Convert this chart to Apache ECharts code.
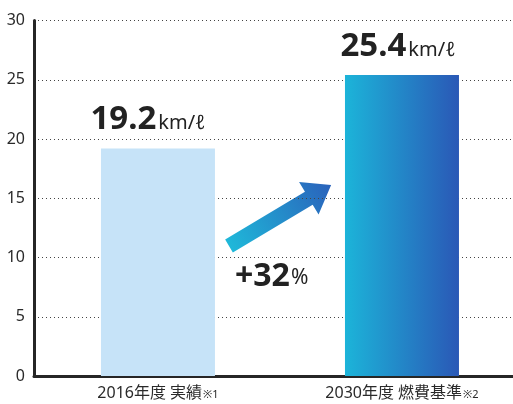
<!DOCTYPE html>
<html>
<head>
<meta charset="utf-8">
<script src="https://cdn.jsdelivr.net/npm/echarts@6/dist/echarts.min.js"></script>
<style>
  html, body { margin: 0; padding: 0; background: #fff; }
  #chart { width: 513px; height: 404px; }
</style>
</head>
<body>
<div id="chart"></div>
<script>
  // 燃費 実績と基準
  const categories = ['2016年度 実績', '2030年度 燃費基準']
  const notes = ['※1', '※2']
  const values = [19.2, 25.4]
  const valueLabels = ['19.2', '25.4']
  const yTicks = [0, 5, 10, 15, 20, 25, 30]
  const increase = '+32'

  const FONT = '"Noto Sans", "Noto Sans CJK JP", sans-serif'
  const chart = echarts.init(document.getElementById('chart'), null, { renderer: 'canvas' })

  const barColors = [
    '#c6e3f8',
    new echarts.graphic.LinearGradient(0, 0, 1, 0, [
      { offset: 0, color: '#1cb4d9' },
      { offset: 1, color: '#2a58b6' }
    ])
  ]
  const labelOffsets = [[-10, 0], [-4, 0]]

  // x は数値軸にしてカテゴリ位置を調整
  const catIndex = categories.map((c, i) => i)

  chart.setOption({
    animation: false,
    textStyle: { fontFamily: FONT },
    grid: { left: 34, right: 0, top: 20.5, bottom: 28 },
    xAxis: {
      type: 'value',
      min: -0.508,
      max: 1.455,
      splitLine: { show: false },
      axisLine: { show: true, onZero: false, lineStyle: { color: '#262626', width: 3 } },
      axisTick: { show: false },
      axisLabel: {
        customValues: catIndex,
        margin: 9,
        color: '#2a2a2a',
        fontSize: 16,
        formatter: function(v) {
          const i = Math.round(v)
          return categories[i] + '{n|' + notes[i] + '}'
        },
        rich: {
          n: { fontSize: 11, color: '#2a2a2a', verticalAlign: 'bottom', padding: [0, 0, 1, 1] }
        }
      }
    },
    yAxis: {
      type: 'value',
      min: yTicks[0],
      max: yTicks[yTicks.length - 1],
      interval: yTicks[1] - yTicks[0],
      axisLine: { show: true, onZero: false, lineStyle: { color: '#262626', width: 3 } },
      axisTick: { show: false },
      axisLabel: { color: '#2a2a2a', fontSize: 16, margin: 9 },
      splitLine: { lineStyle: { type: [1, 3], color: '#444', width: 1 } }
    },
    series: [{
      type: 'bar',
      barWidth: 114,
      data: values.map((v, i) => ({
        value: [catIndex[i], v],
        itemStyle: { color: barColors[i] },
        label: { offset: labelOffsets[i] }
      })),
      label: {
        show: true,
        position: 'top',
        distance: 12,
        formatter: function(p) {
          return '{b|' + valueLabels[p.dataIndex] + '}{u|km/ℓ}'
        },
        rich: {
          b: { fontSize: 33, fontWeight: 'bold', color: '#222', fontFamily: FONT },
          u: { fontSize: 20, color: '#222', fontFamily: FONT, verticalAlign: 'bottom', padding: [0, 0, 3, 2] }
        }
      }
    }],
    graphic: [
      {
        type: 'polygon',
        x: 229,
        y: 246,
        rotation: Math.atan2(61, 102),
        shape: {
          points: [[0, -7.5], [93, -7.5], [93, -19], [119, 0], [93, 19], [93, 7.5], [0, 7.5]]
        },
        style: {
          fill: new echarts.graphic.LinearGradient(0, 0, 1, 0, [
            { offset: 0, color: '#1fb8d9' },
            { offset: 1, color: '#2a62bb' }
          ])
        }
      },
      {
        type: 'text',
        x: 235,
        y: 261,
        style: {
          text: '{b|' + increase + '}{p|%}',
          rich: {
            b: { fontSize: 32, fontWeight: 'bold', fill: '#222', fontFamily: FONT },
            p: { fontSize: 21, fill: '#222', fontFamily: FONT, verticalAlign: 'bottom', padding: [0, 0, 4, 1] }
          }
        }
      }
    ]
  })
</script>
</body>
</html>
